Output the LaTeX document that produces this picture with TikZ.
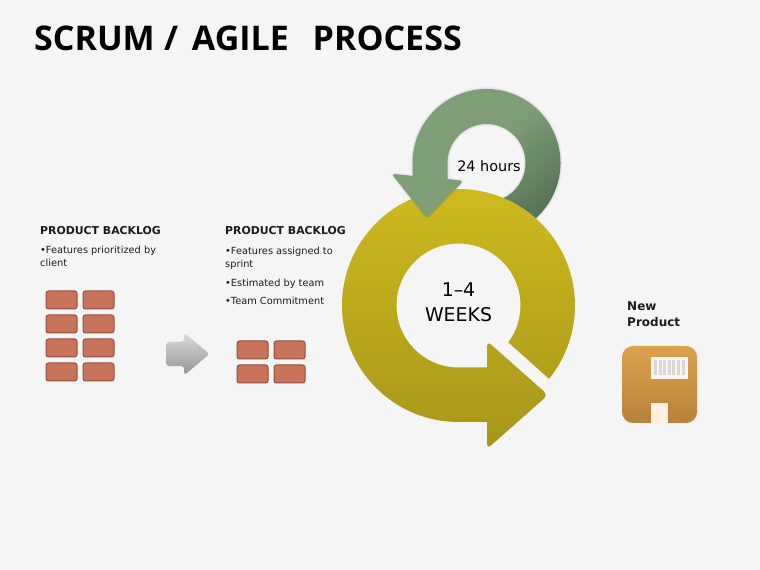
\documentclass[tikz,border=0pt]{standalone}
\usepackage{xcolor}
\usepackage{fontspec}
\setmainfont{DejaVu Sans}
\newfontfamily\titlefont{Open Sans}
\usepackage{tikz}
\usetikzlibrary{arrows.meta,positioning,shapes.arrows}
\definecolor{pagebg}{HTML}{F5F5F5}
\definecolor{brickred}{HTML}{C9745A}
\definecolor{brickedge}{HTML}{8F4E3B}
\definecolor{ringtop}{HTML}{D0BC20}
\definecolor{ringbot}{HTML}{A79518}
\definecolor{loopgreen}{HTML}{7F9E78}
\definecolor{loopdark}{HTML}{567155}
\definecolor{disktop}{HTML}{DCA24E}
\definecolor{diskbot}{HTML}{B78139}
\definecolor{texttone}{HTML}{1C1C1C}
\pgfdeclareverticalshading{loopshade}{100bp}{color(0bp)=(loopdark); color(24bp)=(loopdark); color(52bp)=(loopgreen); color(100bp)=(loopgreen)}
\tikzstyle{brick} = [rectangle, rounded corners=2.5pt, draw=brickedge, line width=1pt, fill=brickred, minimum width=31pt, minimum height=18pt, inner sep=0pt, outer sep=0pt]
\tikzstyle{headtext} = [anchor=base west, inner sep=0pt, text=texttone, font=\fontsize{10.9}{13}\selectfont\bfseries]
\tikzstyle{listtext} = [inner sep=0pt, align=left, text=texttone, font=\fontsize{9.8}{13}\selectfont]
\tikzstyle{bar} = [rectangle, fill=black!15, minimum width=3pt, minimum height=15pt, inner sep=0pt, outer sep=0pt]

\begin{document}
\begin{tikzpicture}[x=1pt,y=1pt,node distance=6pt]
\path[use as bounding box, fill=pagebg] (0,0) rectangle (760,570);

\node[anchor=base west, inner sep=0pt, font=\titlefont\fontsize{34}{40}\selectfont\bfseries] (title) at (34,519.5) {SCRUM\hspace{0.5pt} /\hspace{5pt} AGILE\ \hspace{15pt}PROCESS};

% left column
\node[headtext] (headone) at (40,335) {PRODUCT BACKLOG};
\node[listtext, below=11pt of headone.south west, anchor=north west] (listone) {•Features prioritized by\\client};
\node[brick] (aone) at (61.5,270) {};
\node[brick, right=of aone] (bone) {};
\node[brick, below=of aone] (atwo) {};
\node[brick, right=of atwo] (btwo) {};
\node[brick, below=of atwo] (athree) {};
\node[brick, right=of athree] (bthree) {};
\node[brick, below=of athree] (afour) {};
\node[brick, right=of afour] (bfour) {};

\node[single arrow, anchor=tip, rounded corners=3pt, minimum height=43pt, single arrow head extend=9pt, single arrow tip angle=80, inner xsep=0pt, inner ysep=12pt, outer sep=0pt, shade, top color=black!14, bottom color=black!42] (move) at (209.5,216) {};

% middle column
\node[headtext] (headtwo) at (225,335) {PRODUCT BACKLOG};
\node[listtext, below=12pt of headtwo.south west, anchor=north west] (listtwo) {•Features assigned to\\sprint\\[5.5pt]•Estimated by team\\[5pt]•Team Commitment};
\node[brick] (cone) at (252.5,220) {};
\node[brick, right=of cone] (done) {};
\node[brick, below=of cone] (ctwo) {};
\node[brick, right=of ctwo] (dtwo) {};

% small loop, goes under the big one
\path[shading=loopshade, shading angle=40, preaction={draw=black, opacity=.03, line width=4pt}, preaction={draw=black, opacity=.04, line width=2pt}]
  (486.5,407) ++(-70:74) arc[start angle=-70, end angle=180, radius=74]
  -- (412.5,394) [rounded corners=3pt] -- (392,396) -- (427,352) -- (463,389) [sharp corners] -- (447.5,391)
  -- (447.5,407) arc[start angle=180, end angle=-70, radius=39] -- cycle;

% big loop
\path[shade, top color=ringtop, bottom color=ringbot]
  (458.5,264.5) ++(-39:116.5) arc[start angle=-39, end angle=270, radius=116.5]
  -- (487,148) [rounded corners=5pt] -- (487,121) -- (548,175) -- (487,229) [sharp corners] -- (487,202.5)
  -- (458.5,202.5) arc[start angle=270, end angle=-36.5, radius=62] -- cycle;

% head of the small loop, on top again
\draw[black, opacity=.1, line width=2pt, rounded corners=3pt] (396,392) -- (427,352) -- (459,385);
\fill[loopgreen, rounded corners=3pt] (427.5,392.5) -- (392,396) -- (427,352) -- (463,389) -- cycle;

\node[inner sep=0pt, text=black, font=\fontsize{14.4}{17}\selectfont] (hours) at (489,404) {24 hours};
\node[inner sep=0pt, align=center, text=black, font=\fontsize{18.9}{25}\selectfont] (weeks) at (458.5,267.5) {1--4\\WEEKS};

% new product
\node[anchor=base west, inner sep=0pt, align=left, text=texttone, font=\fontsize{12}{16}\selectfont\bfseries] (newprod) at (627,243) {New\\Product};
\node[rectangle, rounded corners=11pt, shade, top color=disktop, bottom color=diskbot, minimum width=75pt, minimum height=77pt, inner sep=0pt, outer sep=0pt] (disk) at (659.5,185.5) {};
\node[rectangle, fill=white!92!brown, minimum width=37pt, minimum height=22pt, inner sep=0pt, outer sep=0pt] (tag) at (669.5,202) {};
\node[bar] (barone) at (655.5,202) {};
\node[bar, right=1.6pt of barone] (bartwo) {};
\node[bar, right=1.6pt of bartwo] (barthree) {};
\node[bar, right=1.6pt of barthree] (barfour) {};
\node[bar, right=1.6pt of barfour] (barfive) {};
\node[bar, right=1.6pt of barfive] (barsix) {};
\node[bar, right=1.6pt of barsix] (barseven) {};
\node[rectangle, fill=orange!12!white, minimum width=17pt, minimum height=20pt, inner sep=0pt, outer sep=0pt] (slot) at (659.5,157) {};
\end{tikzpicture}
\end{document}
